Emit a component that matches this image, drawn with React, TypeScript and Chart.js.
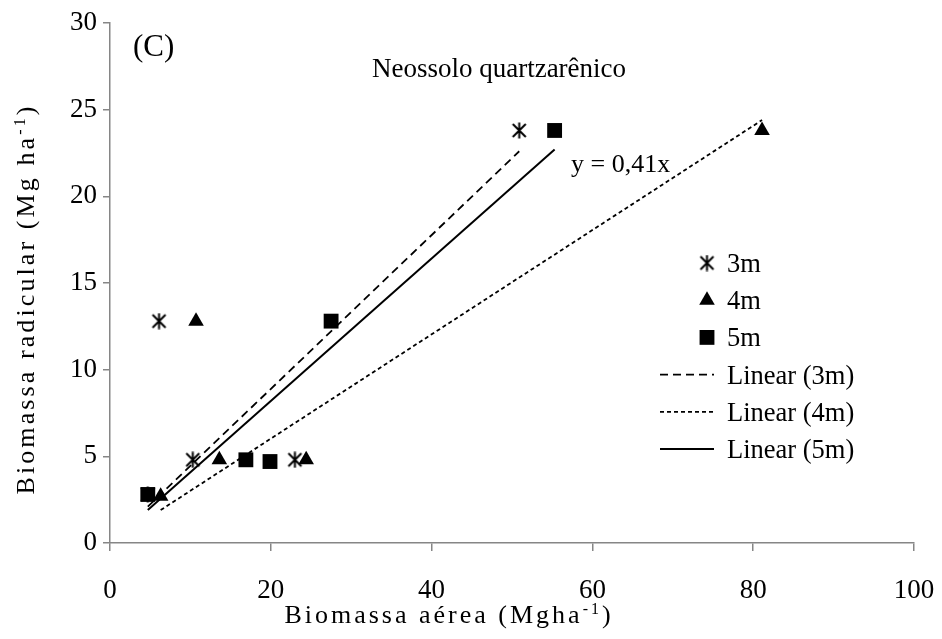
import React, { useEffect, useRef } from "react";
import { Chart, registerables } from "chart.js";

Chart.register(...registerables);

// ---- data ----
const xTicks = [0, 20, 40, 60, 80, 100];
const yTicks = [0, 5, 10, 15, 20, 25, 30];

const x3m = [50.9, 6.1, 10.3, 23.0, 4.7];
const y3m = [23.8, 12.8, 4.8, 4.8, 2.8];
const x4m = [81.1, 10.7, 13.6, 24.4, 6.3];
const y4m = [23.8, 12.8, 4.8, 4.8, 2.7];
const x5m = [55.3, 27.5, 16.9, 19.9, 4.7];
const y5m = [23.8, 12.8, 4.8, 4.7, 2.8];

const trend3x = [4.7, 50.9];
const trend3y = [2.1, 22.6];
const trend4x = [6.3, 81.1];
const trend4y = [1.9, 24.4];
const trend5x = [4.7, 55.3];
const trend5y = [1.9, 22.7];

const seriesLabels = ["3m", "4m", "5m", "Linear (3m)", "Linear (4m)", "Linear (5m)"];
const panelLabel = "(C)";
const titleText = "Neossolo quartzarênico";
const equationText = "y = 0,41x";

const FAMILY = '"Liberation Serif", "Times New Roman", serif';
const AXIS_GRAY = "#868686";

const pts = (xs: number[], ys: number[]) => xs.map((x, i) => ({ x, y: ys[i] }));

function makeAsterisk(): HTMLCanvasElement {
  const c = document.createElement("canvas");
  c.width = 17;
  c.height = 17;
  const g = c.getContext("2d")!;
  g.strokeStyle = "#000";
  g.lineWidth = 2;
  g.beginPath();
  g.moveTo(2, 2);
  g.lineTo(15, 15);
  g.moveTo(15, 2);
  g.lineTo(2, 15);
  g.moveTo(8.5, 0.5);
  g.lineTo(8.5, 16.5);
  g.stroke();
  return c;
}

type Run = { t: string; sup?: boolean };

function drawRuns(
  ctx: CanvasRenderingContext2D,
  runs: Run[],
  x: number,
  y: number,
  size: number,
  align: "left" | "center",
  spacing = "0px"
) {
  ctx.save();
  (ctx as any).letterSpacing = spacing;
  ctx.fillStyle = "#000";
  ctx.textBaseline = "alphabetic";
  ctx.textAlign = "left";
  const fonts = runs.map((r) => `${r.sup ? Math.round(size * 0.62) : size}px ${FAMILY}`);
  let total = 0;
  const widths = runs.map((r, i) => {
    ctx.font = fonts[i];
    const w = ctx.measureText(r.t).width;
    total += w;
    return w;
  });
  let cx = align === "center" ? x - total / 2 : x;
  runs.forEach((r, i) => {
    ctx.font = fonts[i];
    ctx.fillText(r.t, cx, r.sup ? y - size * 0.36 : y);
    cx += widths[i];
  });
  ctx.restore();
}

function drawMarker(ctx: CanvasRenderingContext2D, d: any, x: number, y: number) {
  const ps = d.pointStyle;
  ctx.save();
  if (ps instanceof HTMLCanvasElement) {
    ctx.drawImage(ps, x - ps.width / 2, y - ps.height / 2);
  } else {
    ctx.fillStyle = "#000";
    ctx.beginPath();
    const r = d.pointRadius;
    if (ps === "triangle") {
      ctx.moveTo(x, y - r);
      ctx.lineTo(x + r * 0.866, y + r * 0.5);
      ctx.lineTo(x - r * 0.866, y + r * 0.5);
      ctx.closePath();
    } else {
      const s = r * Math.SQRT1_2;
      ctx.rect(x - s, y - s, 2 * s, 2 * s);
    }
    ctx.fill();
  }
  ctx.restore();
}

const textPlugin = {
  id: "textPlugin",
  afterDraw(chart: any) {
    const ctx: CanvasRenderingContext2D = chart.ctx;
    // panel label, title, equation
    drawRuns(ctx, [{ t: panelLabel }], 133, 56, 31, "left");
    drawRuns(ctx, [{ t: titleText }], 499, 77, 27, "center");
    drawRuns(ctx, [{ t: equationText }], 571, 172, 26, "left");

    // x axis title
    drawRuns(
      ctx,
      [{ t: "Biomassa aérea (Mgha" }, { t: "-1", sup: true }, { t: ")" }],
      449,
      623,
      26,
      "center",
      "3px"
    );
    // y axis title
    ctx.save();
    ctx.translate(34, 299);
    ctx.rotate(-Math.PI / 2);
    drawRuns(
      ctx,
      [{ t: "Biomassa radicular (Mg ha" }, { t: "-1", sup: true }, { t: ")" }],
      0,
      0,
      26,
      "center",
      "3.1px"
    );
    ctx.restore();

    // legend
    const ds = chart.data.datasets;
    const rowY0 = 263;
    const step = 37.2;
    ds.forEach((d: any, i: number) => {
      const yy = rowY0 + i * step;
      if (d.showLine) {
        ctx.save();
        ctx.strokeStyle = d.borderColor;
        ctx.lineWidth = d.borderWidth;
        ctx.setLineDash(d.borderDash || []);
        ctx.beginPath();
        ctx.moveTo(660, yy);
        ctx.lineTo(714, yy);
        ctx.stroke();
        ctx.restore();
      } else {
        drawMarker(ctx, d, 707, yy);
      }
      drawRuns(ctx, [{ t: d.label }], 727, yy + 9, 26.5, "left");
    });
  },
};

export default function App() {
  const ref = useRef<HTMLCanvasElement | null>(null);

  useEffect(() => {
    if (!ref.current) return;
    const asterisk = makeAsterisk();
    const tickFont = { family: FAMILY, size: 27 };

    const chart = new Chart(ref.current, {
      type: "scatter",
      data: {
        datasets: [
          {
            label: seriesLabels[0],
            data: pts(x3m, y3m),
            pointStyle: asterisk as any,
            pointRadius: 8,
            showLine: false,
            backgroundColor: "#000",
            borderColor: "#000",
            order: 5,
          },
          {
            label: seriesLabels[1],
            data: pts(x4m, y4m),
            pointStyle: "triangle",
            pointRadius: 9,
            pointBorderWidth: 0,
            borderWidth: 0,
            showLine: false,
            backgroundColor: "#000",
            borderColor: "#000",
            order: 4,
          },
          {
            label: seriesLabels[2],
            data: pts(x5m, y5m),
            pointStyle: "rect",
            pointRadius: 10.5,
            borderWidth: 0,
            showLine: false,
            backgroundColor: "#000",
            borderColor: "#000",
            order: 3,
          },
          {
            label: seriesLabels[3],
            data: pts(trend3x, trend3y),
            showLine: true,
            pointRadius: 0,
            borderColor: "#000",
            borderWidth: 1.8,
            borderDash: [8, 5],
            order: 2,
          },
          {
            label: seriesLabels[4],
            data: pts(trend4x, trend4y),
            showLine: true,
            pointRadius: 0,
            borderColor: "#000",
            borderWidth: 1.8,
            borderDash: [4, 3],
            order: 1,
          },
          {
            label: seriesLabels[5],
            data: pts(trend5x, trend5y),
            showLine: true,
            pointRadius: 0,
            borderColor: "#000",
            borderWidth: 2,
            borderDash: [],
            order: 0,
          },
        ] as any,
      },
      options: {
        responsive: false,
        animation: false,
        events: [],
        layout: { padding: { left: 0, top: 23, right: 28, bottom: 0 } },
        plugins: {
          legend: { display: false },
          tooltip: { enabled: false },
          title: { display: false },
        },
        scales: {
          x: {
            type: "linear",
            min: xTicks[0],
            max: xTicks[xTicks.length - 1],
            afterBuildTicks: (s: any) => {
              s.ticks = xTicks.map((v) => ({ value: v }));
            },
            afterFit: (s: any) => {
              s.height = 96;
              s.paddingLeft = 0;
              s.paddingRight = 0;
            },
            border: { display: true, color: AXIS_GRAY, width: 1.5 },
            grid: {
              display: true,
              drawOnChartArea: false,
              drawTicks: true,
              tickLength: 8,
              color: AXIS_GRAY,
              lineWidth: 1.5,
            },
            ticks: {
              font: tickFont,
              color: "#000",
              padding: 24,
              maxRotation: 0,
              autoSkip: false,
            },
          },
          y: {
            type: "linear",
            min: yTicks[0],
            max: yTicks[yTicks.length - 1],
            afterBuildTicks: (s: any) => {
              s.ticks = yTicks.map((v) => ({ value: v }));
            },
            afterFit: (s: any) => {
              s.width = 110;
              s.paddingTop = 0;
              s.paddingBottom = 0;
            },
            border: { display: true, color: AXIS_GRAY, width: 1.5 },
            grid: {
              display: true,
              drawOnChartArea: false,
              drawTicks: true,
              tickLength: 7,
              color: AXIS_GRAY,
              lineWidth: 1.5,
            },
            ticks: {
              font: tickFont,
              color: "#000",
              padding: 6,
              autoSkip: false,
            },
          },
        },
      },
      plugins: [textPlugin],
    });

    return () => chart.destroy();
  }, []);

  return (
    <div style={{ position: "fixed", left: 0, top: 0, width: 942, height: 639, background: "#fff" }}>
      <canvas ref={ref} width={942} height={639} style={{ display: "block", width: 942, height: 639 }} />
    </div>
  );
}
